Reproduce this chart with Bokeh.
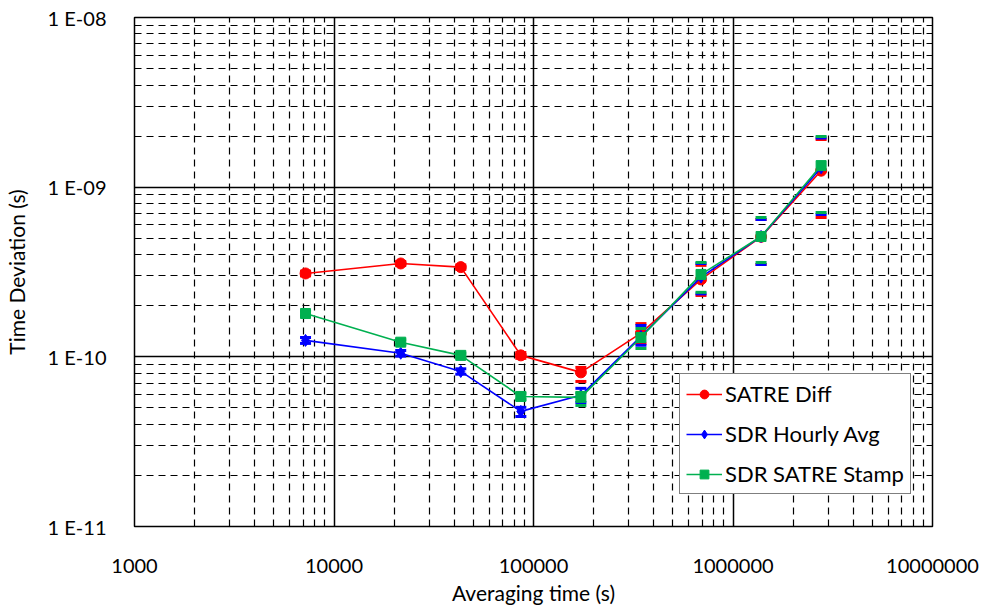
from bokeh.plotting import figure
from bokeh.models import FixedTicker, CustomJSTickFormatter, Legend, LegendItem
from bokeh.embed import file_html
from bokeh.resources import INLINE

# ---- data ----
tau = [7200, 21600, 43200, 86400, 172800, 345600, 691200, 1382400, 2764800]

satre_diff = [3.10e-10, 3.55e-10, 3.38e-10, 1.02e-10, 8.1e-11, 1.38e-10, 2.86e-10, 5.10e-10, 1.25e-9]
satre_diff_lo = [3.00e-10, 3.45e-10, 3.28e-10, 0.98e-10, 7.16e-11, 1.20e-10, 2.30e-10, 3.50e-10, 6.63e-10]
satre_diff_hi = [3.20e-10, 3.65e-10, 3.48e-10, 1.06e-10, 8.66e-11, 1.57e-10, 3.46e-10, 6.45e-10, 1.91e-9]

sdr_hourly = [1.25e-10, 1.05e-10, 8.2e-11, 4.77e-11, 5.93e-11, 1.32e-10, 2.95e-10, 5.12e-10, 1.30e-9]
sdr_hourly_lo = [1.20e-10, 1.01e-10, 7.9e-11, 4.45e-11, 5.38e-11, 1.17e-10, 2.35e-10, 3.50e-10, 6.90e-10]
sdr_hourly_hi = [1.30e-10, 1.09e-10, 8.5e-11, 5.04e-11, 6.52e-11, 1.53e-10, 3.55e-10, 6.45e-10, 1.95e-9]

sdr_stamp = [1.80e-10, 1.22e-10, 1.02e-10, 5.84e-11, 5.77e-11, 1.30e-10, 3.06e-10, 5.12e-10, 1.34e-9]
sdr_stamp_lo = [1.74e-10, 1.18e-10, 0.99e-10, 5.60e-11, 5.17e-11, 1.12e-10, 2.40e-10, 3.60e-10, 7.09e-10]
sdr_stamp_hi = [1.86e-10, 1.26e-10, 1.05e-10, 6.10e-11, 6.17e-11, 1.47e-10, 3.60e-10, 6.63e-10, 1.99e-9]

series_names = ["SATRE Diff", "SDR Hourly Avg", "SDR SATRE Stamp"]

x_major = [1e3, 1e4, 1e5, 1e6, 1e7]
y_major = [1e-11, 1e-10, 1e-9, 1e-8]

# ---- styling ----
FONT = "Lato"
colors = ["#FF0000", "#0000FF", "#00B050"]
markers = ["circle", "diamond", "square"]
msizes = [11, 12, 10]

x_minor = [m * 10.0 ** e for e in range(3, 7) for m in range(2, 10)]
y_minor = [m * 10.0 ** e for e in range(-11, -8) for m in range(2, 10)]

p = figure(width=980, height=609, x_axis_type="log", y_axis_type="log",
           x_range=(1e3, 1e7), y_range=(1e-11, 1e-8),
           output_backend="svg", toolbar_location=None,
           min_border_left=133, min_border_right=48,
           min_border_top=17, min_border_bottom=83)

p.xaxis.ticker = FixedTicker(ticks=x_major, minor_ticks=x_minor)
p.yaxis.ticker = FixedTicker(ticks=y_major, minor_ticks=y_minor)

for g in (p.xgrid, p.ygrid):
    g.grid_line_color = "black"
    g.grid_line_width = 1.5
    g.grid_line_alpha = 1.0
    g.minor_grid_line_color = "black"
    g.minor_grid_line_width = 1.2
    g.minor_grid_line_dash = "7 5"

p.outline_line_color = "black"
p.outline_line_width = 1.5
p.outline_line_alpha = 1.0

for ax in (p.xaxis, p.yaxis):
    ax.axis_line_color = None
    ax.major_tick_line_color = None
    ax.minor_tick_line_color = None
    ax.major_label_text_font = FONT
    ax.major_label_text_font_size = "20px"
    ax.major_label_text_color = "black"
    ax.axis_label_text_font = FONT
    ax.axis_label_text_font_size = "21px"
    ax.axis_label_text_font_style = "normal"
    ax.axis_label_text_color = "black"

p.yaxis.formatter = CustomJSTickFormatter(code="""
const e = Math.round(Math.log10(tick));
const a = Math.abs(e);
return '1 E' + (e < 0 ? '-' : '+') + (a < 10 ? '0' : '') + a;
""")
p.xaxis.formatter = CustomJSTickFormatter(code="return Math.round(tick).toString();")

p.xaxis.axis_label = "Averaging time (s)"
p.yaxis.axis_label = "Time Deviation (s)"
p.xaxis.major_label_standoff = 26
p.xaxis.axis_label_standoff = 4
p.yaxis.major_label_standoff = 22
p.yaxis.axis_label_standoff = 16

p.background_fill_color = "white"
p.border_fill_color = "white"

all_vals = [(satre_diff, satre_diff_lo, satre_diff_hi),
            (sdr_hourly, sdr_hourly_lo, sdr_hourly_hi),
            (sdr_stamp, sdr_stamp_lo, sdr_stamp_hi)]

items = []
for (vals, lo, hi), name, c, mk, ms in zip(all_vals, series_names, colors, markers, msizes):
    lr = p.line(tau, vals, line_color=c, line_width=1.6)
    p.scatter(tau, lo, marker="dash", size=11, line_color=c, line_width=3)
    p.scatter(tau, hi, marker="dash", size=11, line_color=c, line_width=3)
    mr = p.scatter(tau, vals, marker=mk, size=ms, fill_color=c, line_color=c)
    items.append(LegendItem(label=name, renderers=[lr, mr]))

legend = Legend(items=items, location=(545, 32),
                border_line_color="black", border_line_width=1.5,
                background_fill_color="white", background_fill_alpha=1.0,
                label_text_font=FONT, label_text_font_size="22px",
                label_text_color="black",
                glyph_width=36, glyph_height=22, label_height=22,
                spacing=13, padding=6, margin=0, label_standoff=3)
p.add_layout(legend)

open("out.html", "w").write(file_html(p, INLINE))
